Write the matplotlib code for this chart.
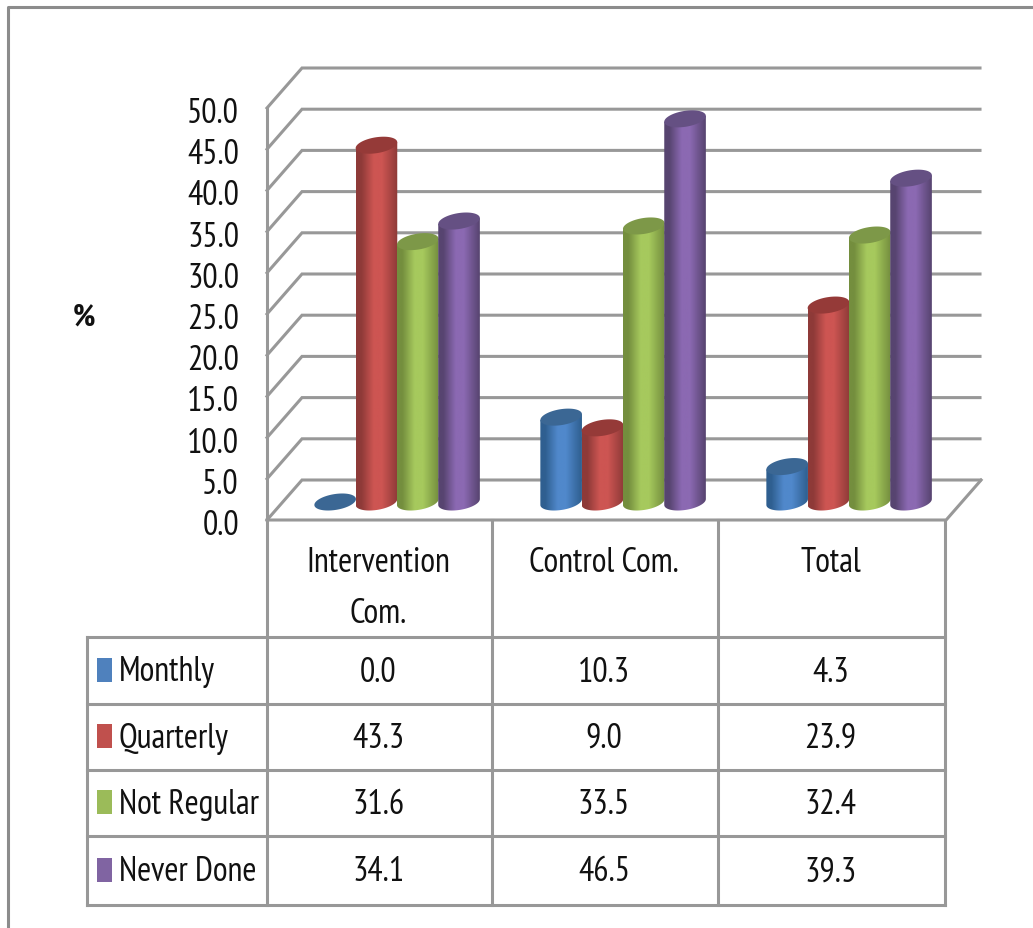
import numpy as np
import matplotlib
matplotlib.use('Agg')
import matplotlib.pyplot as plt
from matplotlib.colors import LinearSegmentedColormap
from matplotlib.patches import Polygon, Rectangle

plt.rcParams['font.family'] = ['PT Sans Narrow', 'Archivo Narrow', 'Barlow Condensed', 'Liberation Sans', 'DejaVu Sans']
FS = 24.5

# data
categories = ['Intervention\nCom.', 'Control Com.', 'Total']
series = ['Monthly', 'Quarterly', 'Not Regular', 'Never Done']
monthly = [0.0, 10.3, 4.3]
quarterly = [43.3, 9.0, 23.9]
not_regular = [31.6, 33.5, 32.4]
never_done = [34.1, 46.5, 39.3]
y_ticks = [0, 5, 10, 15, 20, 25, 30, 35, 40, 45, 50]

# edge, highlight, top-cap colour for each series
colors = [('#2f5f90', '#5088cb', '#3b6794'),
          ('#8e3a38', '#cd5552', '#953a38'),
          ('#748e3e', '#a6c95d', '#7d9848'),
          ('#574470', '#8b69b2', '#655083')]
swatches = ['#4f81bd', '#c0504d', '#9bbb59', '#8064a2']
GRID = '#989898'

W, H = 1033, 929
fig = plt.figure(figsize=(W / 100, H / 100), dpi=100)

# one axes in chart units (categories / percent), one in pixels for the table
PX_X, PX_Y = 226.0, 8.24
X0, Y0 = 267, 521
ax = fig.add_axes([0, 0, 1, 1])
ax.set_xlim(-X0 / PX_X, (W - X0) / PX_X)
ax.set_ylim((Y0 - H) / PX_Y, Y0 / PX_Y)
ax.axis('off')

tb = fig.add_axes([0, 0, 1, 1])
tb.set_xlim(0, W)
tb.set_ylim(H, 0)
tb.axis('off')
tb.patch.set_alpha(0)

# 3D box: walls and floor
DEPTH_X, DEPTH_Y = 35 / PX_X, 40 / PX_Y
for v in y_ticks:
    ax.plot([0, DEPTH_X, 3 + DEPTH_X], [v, v + DEPTH_Y, v + DEPTH_Y],
            color=GRID, lw=2.2, zorder=1, solid_joinstyle='miter')
ax.plot([0, 0], [0, 50], color=GRID, lw=2.2, zorder=1)
ax.plot([0, 3.005, 3.005 + DEPTH_X], [0, 0, DEPTH_Y], color=GRID, lw=2.2, zorder=1)


def ellipse_points(cx, cy, t):
    # tilted ellipse for a cylinder cap, sized in pixels and returned in chart units
    ex = 20.8 * np.cos(t)
    ey = 8.0 * np.sin(t)
    rise = np.tan(np.radians(8)) * 20.8 * np.cos(t)
    return cx + ex / PX_X, cy + (ey + rise) / PX_Y


def cylinder(cx, base, value, cols, z):
    edge, light, top = cols
    half = 20.8 / PX_X
    y_top = base + value
    if value > 0:
        cmap = LinearSegmentedColormap.from_list(
            'body', [(0, edge), (0.12, edge), (0.42, light), (0.62, light), (1, edge)])
        low_t = np.linspace(np.pi, 2 * np.pi, 40)
        bx, by = ellipse_points(cx, base, low_t)
        tx, ty = ellipse_points(cx, y_top, np.array([0.0, np.pi]))
        outline = np.vstack([np.column_stack([bx, by]),
                             [[tx[0], ty[0]], [tx[1], ty[1]]]])
        clip = Polygon(outline, closed=True, transform=ax.transData, fc='none', ec='none')
        ax.add_patch(clip)
        im = ax.imshow(np.linspace(0, 1, 64).reshape(1, -1), cmap=cmap, aspect='auto',
                       extent=[cx - half, cx + half, base - 2, y_top + 2],
                       zorder=z, interpolation='bilinear')
        im.set_clip_path(clip)
    t = np.linspace(0, 2 * np.pi, 80)
    px, py = ellipse_points(cx, y_top, t)
    ax.fill(px, py, color=top, lw=0, zorder=z + 0.5)


xlim, ylim = ax.get_xlim(), ax.get_ylim()
BASE = 18 / PX_Y
GAP, BAR = 30 / PX_X, 41.3 / PX_X
values = [monthly, quarterly, not_regular, never_done]
z = 2
for i in range(len(categories)):
    for j, vals in enumerate(values):
        cx = i + DEPTH_X / 2 + GAP + BAR * (j + 0.5)
        cylinder(cx, BASE, vals[i], colors[j], z)
        z += 1
ax.set_xlim(xlim)
ax.set_ylim(ylim)

# y tick labels
for v in y_ticks:
    ax.text(-28 / PX_X, v - 0.6, f'{v:.1f}', ha='right', va='center', fontsize=FS, color='#111111')
tb.text(84, 318, '%', ha='center', va='center', fontsize=FS - 2, fontweight='bold', color='#111111')

# data table under the chart
col_x = [267, 492, 718, 945]
row_y = [638, 705, 771, 837, 906]
for x in col_x:
    tb.plot([x, x], [521, row_y[-1]], color=GRID, lw=2.2, zorder=1)
tb.plot([87, 87], [row_y[0], row_y[-1]], color=GRID, lw=2.2, zorder=1)
for y in row_y:
    tb.plot([87, col_x[-1]], [y, y], color=GRID, lw=2.2, zorder=1)

centers = [(col_x[k] + col_x[k + 1]) / 2 - 1 for k in range(3)]
for c, name in zip(centers, categories):
    lines = name.split('\n')
    for k, line in enumerate(lines):
        tb.text(c, 563 + 51 * k, line, ha='center', va='center', fontsize=FS, color='#111111')

for r, (name, vals) in enumerate(zip(series, values)):
    yc = (row_y[r] + row_y[r + 1]) / 2
    tb.add_patch(Rectangle((97, yc - 13), 15, 24, fc=swatches[r], ec='none', zorder=2))
    tb.text(119, yc + 1, name, ha='left', va='center', fontsize=FS, color='#111111')
    for c, v in zip(centers, vals):
        tb.text(c, yc + 1, f'{v:.1f}', ha='center', va='center', fontsize=FS, color='#111111')

# outer frame, top and left edges only
tb.plot([8, 8, W], [H, 8, 8], color='#8c8c8c', lw=2.2, zorder=1)
tb.set_xlim(0, W)
tb.set_ylim(H, 0)

fig.savefig('out.png', dpi=100)
